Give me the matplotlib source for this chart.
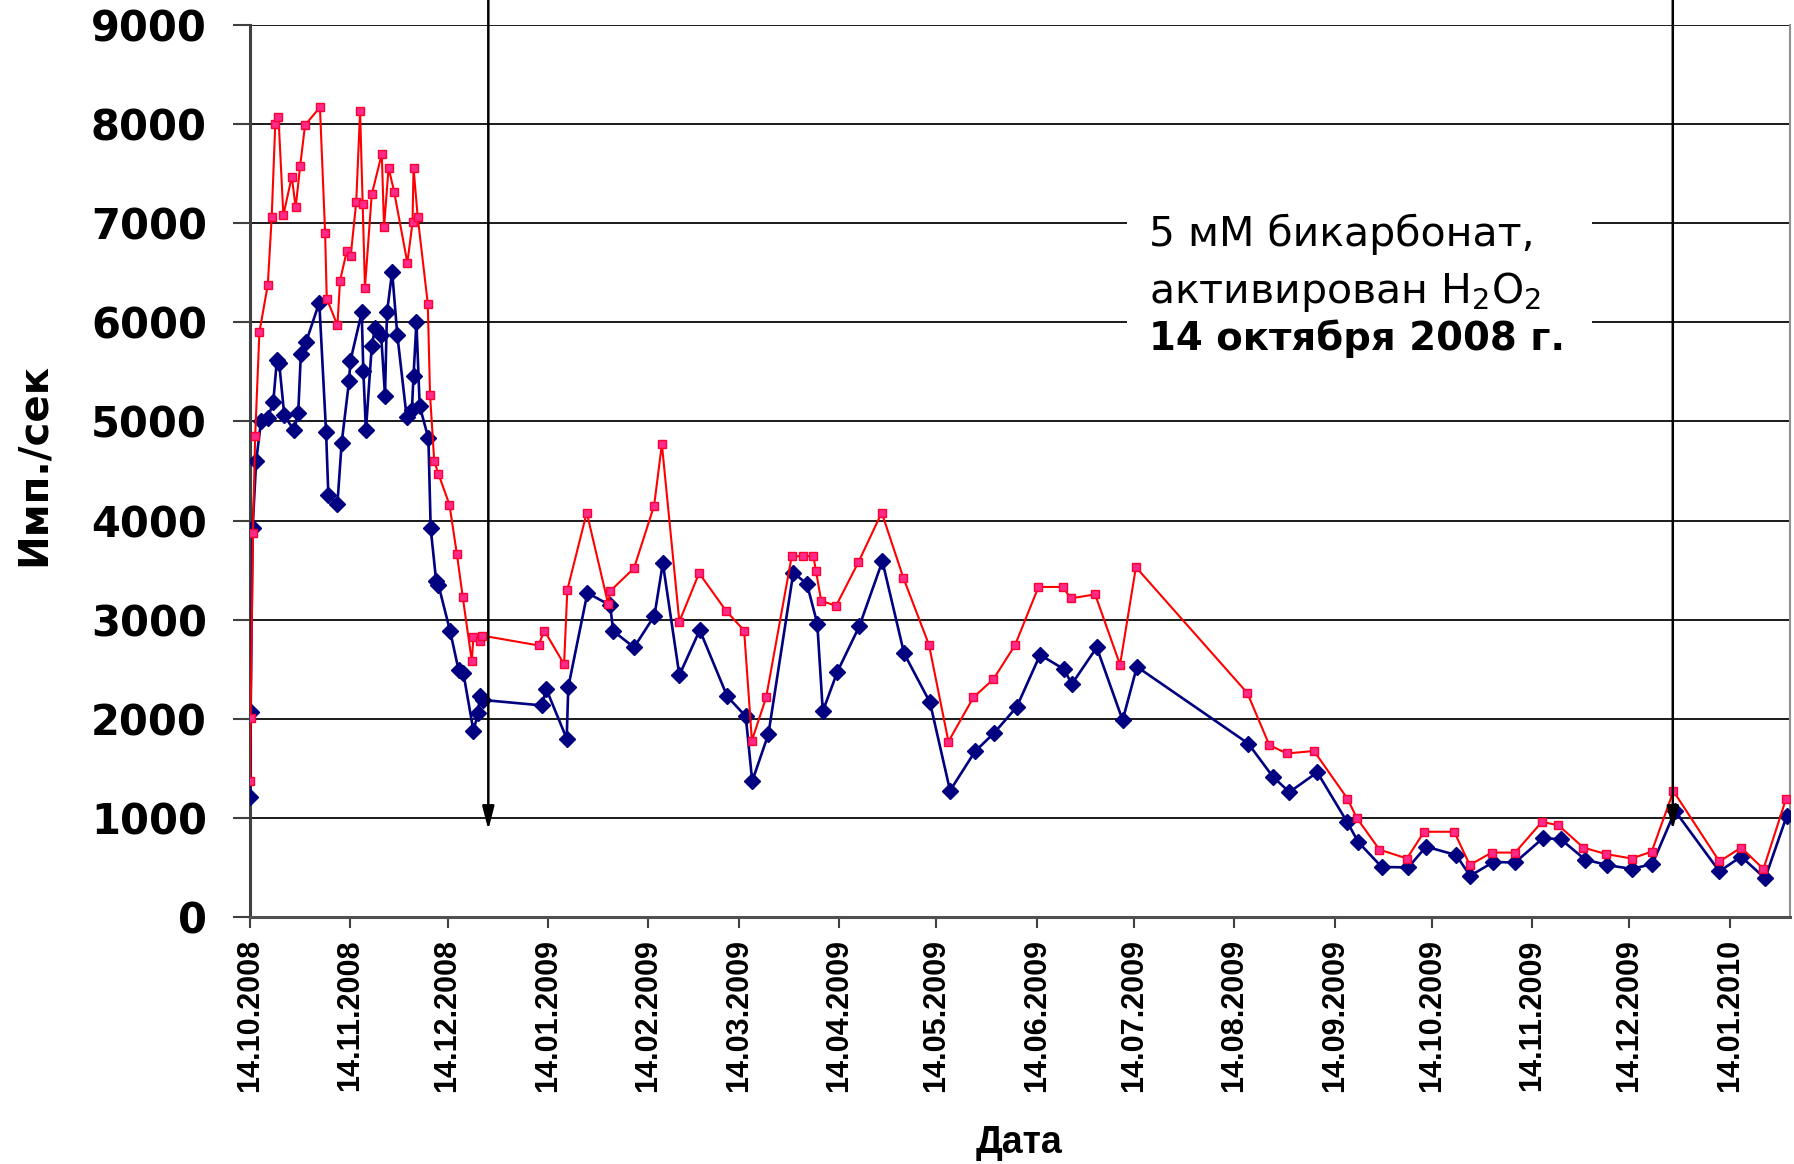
import datetime as dt
import numpy as np
import matplotlib
matplotlib.use("Agg")
import matplotlib.pyplot as plt
import matplotlib.dates as mdates
from matplotlib.patches import Rectangle

# Measurement series, x = days since 14.10.2008
start = dt.datetime(2008, 10, 14)

red_days = [0.0, 0.2, 0.9, 1.6, 2.9, 5.5, 6.7, 7.8, 8.8, 10.3, 12.9, 14.1, 15.5, 17.0,
            21.6, 23.2, 23.7, 27.0, 27.8, 29.9, 31.1, 32.8, 34.0, 34.8, 35.5, 37.6,
            40.7, 41.4, 42.8, 44.5, 48.6, 50.2, 50.5, 51.8, 54.9, 55.6, 56.9, 58.2,
            61.6, 63.9, 65.7, 68.5, 69.0, 70.9, 71.6, 89.1, 90.9, 97.0, 98.0, 104.0,
            110.6, 111.3, 118.6, 124.8, 127.2, 132.6, 138.7, 147.0, 152.6, 155.0,
            159.4, 167.3, 170.7, 174.0, 174.8, 176.4, 181.0, 187.9, 195.1, 201.8,
            209.7, 215.7, 223.4, 229.6, 236.3, 243.5, 251.0, 253.5, 261.0, 268.7,
            273.6, 308.0, 314.8, 320.2, 328.6, 338.9, 341.8, 348.8, 357.3, 362.6,
            371.9, 376.7, 383.5, 390.7, 399.0, 404.1, 411.8, 418.8, 426.7, 432.9,
            439.6, 453.8, 460.5, 467.4, 474.4]
red_vals = [1370, 2010, 3870, 4850, 5900, 6380, 7060, 8000, 8070, 7080, 7470, 7160, 7580, 7990,
            8170, 6900, 6240, 5970, 6420, 6720, 6670, 7210, 8130, 7190, 6350, 7290,
            7700, 6960, 7560, 7320, 6600, 7010, 7560, 7060, 6190, 5270, 4600, 4470,
            4160, 3660, 3230, 2580, 2830, 2780, 2840, 2740, 2890, 2550, 3300, 4080,
            3160, 3290, 3520, 4150, 4770, 2980, 3470, 3090, 2890, 1780,
            2215, 3640, 3640, 3640, 3490, 3190, 3140, 3580, 4080, 3420,
            2745, 1770, 2215, 2400, 2745, 3330, 3330, 3215, 3255, 2545,
            3530, 2260, 1735, 1650, 1675, 1195, 1000, 680, 590, 860,
            860, 525, 650, 650, 960, 925, 700, 635, 590, 660,
            1270, 560, 700, 485, 1195]

blue_days = [0.0, 0.2, 0.8, 1.9, 3.4, 5.5, 7.2, 8.3, 9.0, 10.6, 13.6, 14.9, 15.7, 17.3,
             21.4, 23.5, 24.2, 27.0, 28.3, 30.6, 31.0, 34.5, 35.0, 35.8, 37.6, 38.6,
             40.5, 41.7, 42.3, 43.9, 45.5, 48.4, 50.0, 50.5, 51.4, 52.4, 55.1, 55.8,
             57.5, 58.2, 61.8, 64.4, 65.9, 69.0, 70.5, 70.9, 71.9, 90.1, 91.5, 97.8,
             98.3, 104.2, 111.2, 112.2, 118.6, 124.9, 127.5, 132.6, 138.9, 147.4,
             153.1, 155.1, 160.1, 167.8, 172.0, 175.2, 176.9, 181.4, 188.2, 195.3,
             202.0, 210.0, 216.2, 223.9, 229.9, 236.8, 244.0, 251.4, 253.8, 261.5,
             269.5, 273.9, 308.3, 315.9, 321.0, 329.6, 338.9, 342.3, 349.5, 357.7,
             363.2, 372.5, 376.8, 384.0, 390.7, 399.3, 404.8, 412.3, 419.0, 426.7,
             433.1, 440.1, 453.8, 460.5, 467.9, 474.6]
blue_vals = [1210, 2070, 3920, 4600, 5000, 5030, 5200, 5620, 5590, 5060, 4910, 5090, 5680, 5800,
             6200, 4890, 4255, 4170, 4780, 5410, 5610, 6100, 5510, 4910, 5760, 5940,
             5870, 5260, 6100, 6510, 5870, 5040, 5120, 5460, 6000, 5155, 4830, 3920,
             3390, 3350, 2885, 2495, 2460, 1880, 2060, 2225, 2190, 2135, 2300, 1800,
             2320, 3270, 3145, 2885, 2720, 3040, 3570, 2440, 2895, 2225,
             2025, 1370, 1846, 3475, 3360, 2960, 2075, 2475, 2935, 3590,
             2660, 2165, 1275, 1670, 1860, 2120, 2645, 2500, 2350, 2720,
             1985, 2525, 1750, 1415, 1260, 1460, 955, 755, 505, 500,
             710, 625, 415, 555, 550, 795, 785, 580, 525, 485,
             535, 1070, 460, 610, 390, 1020]

# Event markers (days since start) and the level the arrows point to
arrow_days = [73.6, 439.4]
arrow_tip = 880

note_lines = ["5 мМ бикарбонат,", "активирован H$_2$O$_2$", "14 октября 2008 г."]

W, H = 1794, 1164
fig = plt.figure(figsize=(W / 100, H / 100), dpi=100)
ax = fig.add_axes([250 / W, 1 - 917 / H, 1540 / W, 892 / H])

t0 = mdates.date2num(start)
rx = t0 + np.array(red_days)
bx = t0 + np.array(blue_days)

ax.plot(bx, blue_vals, color="#000080", lw=1.9, marker="D", ms=8,
        mfc="#000080", mec="#000080", zorder=3)
ax.plot(rx, red_vals, color="#ff0000", lw=1.5, marker="s", ms=6,
        mfc="#ff2a8a", mec="#ff0030", mew=1.0, zorder=4)

ax.set_xlim(t0, t0 + 475.6)
ax.set_ylim(0, 9000)
ax.set_yticks(range(0, 9001, 1000))
ax.xaxis.set_major_locator(mdates.MonthLocator(bymonthday=14))
ax.xaxis.set_major_formatter(mdates.DateFormatter("%d.%m.%Y"))

ax.set_axisbelow(True)
ax.yaxis.grid(True, color="#1a1a1a", lw=1.4)
ax.xaxis.grid(False)

ax.tick_params(axis="y", length=12, width=1.5, pad=19, color="#404040")
ax.tick_params(axis="x", length=8, width=1.5, pad=8, color="#404040", labelrotation=90)
for lab in ax.get_yticklabels():
    lab.set_fontfamily("DejaVu Sans")
    lab.set_fontweight("bold")
    lab.set_fontsize(30)
for lab in ax.get_xticklabels():
    lab.set_fontfamily("Liberation Sans")
    lab.set_fontweight("bold")
    lab.set_fontsize(22)

ax.spines["top"].set_visible(False)
ax.spines["left"].set_color("#404040")
ax.spines["left"].set_linewidth(2.2)
ax.spines["bottom"].set_color("#505050")
ax.spines["bottom"].set_linewidth(2.2)
ax.spines["right"].set_color("#909090")
ax.spines["right"].set_linewidth(1.5)

# White box behind the annotation
ax.add_patch(Rectangle((t0 + 270.9, 5450), 143.6, 2100, fc="white", ec="none", zorder=1))
tx = t0 + 277.5
ax.text(tx, 6773, note_lines[0], fontsize=29.5, family="DejaVu Sans", va="baseline", zorder=5)
ax.text(tx, 6192, note_lines[1], fontsize=29.5, family="DejaVu Sans", va="baseline", zorder=5)
ax.text(tx, 5721, note_lines[2], fontsize=27.8, family="DejaVu Sans", fontweight="bold",
        va="baseline", zorder=5)

for d in arrow_days:
    ax.annotate("", xy=(t0 + d, arrow_tip), xytext=(t0 + d, 9600),
                arrowprops=dict(arrowstyle="-|>,head_length=0.7,head_width=0.18",
                                color="black", lw=1.8, shrinkA=0, shrinkB=0,
                                mutation_scale=20),
                annotation_clip=False, zorder=6)

fig.text(34 / W, 1 - 465 / H, "Имп./сек", rotation=90, ha="center", va="center",
         fontsize=29, fontweight="bold", family="DejaVu Sans")
fig.text(1019 / W, 1 - 1143 / H, "Дата", ha="center", va="center",
         fontsize=27, fontweight="bold", family="Liberation Sans")

fig.savefig("out.png", dpi=100)
